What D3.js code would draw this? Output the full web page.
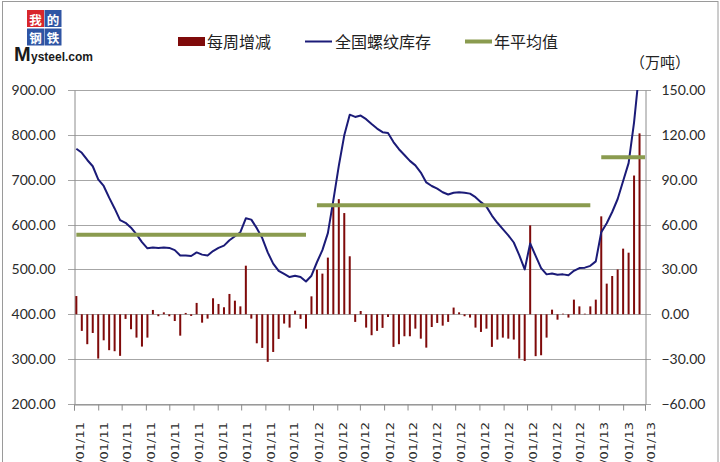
<!DOCTYPE html>
<html><head><meta charset="utf-8">
<script src="https://cdn.jsdelivr.net/npm/d3@7"></script>
<style>
html,body{margin:0;padding:0;background:#fff;}
svg{display:block;}
</style></head>
<body>
<svg id="chart" width="720" height="462"></svg>
<script>
// ---------- DATA ----------
const startDate = "2011-03-04";          // first weekly observation (Friday)
const weekCount = 104;
const weeklyChange = [ // 每周增减 (万吨), right axis
  12.2,-11.1,-20,-12.5,-29.6,-17.4,-24,-24.7,-27.8,-3.1,
  -10,-15.6,-21.6,-15.6,2.9,-1.3,1.3,-1.3,-4.5,-14.3,
  0.9,-1.1,7.6,-5.6,-2.9,10.7,6.9,4.7,13.6,9.1,
  5.3,32.5,-2.9,-19.4,-22.5,-31.8,-25.2,-16.5,-6.2,-8.9,
  2.4,-3.1,-9.6,12,29.8,27.2,37.9,73,77,67.7,
  38.8,-5.1,2.2,-8.9,-14,-11.1,-9.1,-1.8,-21.8,-20,
  -14.7,-14.7,-9.6,-16.3,-22.3,-8.5,-5.8,-7.6,-5.1,4.5,
  1.3,-1.3,-2.2,-8.9,-11.8,-9.6,-21.8,-16.9,-15.6,-16.3,
  -16.9,-29.6,-31.2,59.5,-28,-27.4,-15.6,3.1,-3.6,0.4,
  -2.2,9.8,5.3,0.4,5.3,9.8,65.5,20.5,25.6,30,
  43.9,41.2,92.8,121
];
const inventory = [ // 全国螺纹库存, left axis
  769,760,744,730,701,686,660,636,610,604,
  593,578,561,547,549,548,549,548,543,531,
  531,530,538,533,531,541,548,553,565,574,
  583,614,611,592,570,538,513,497,490,483,
  486,483,473,486,516,543,581,654,731,799,
  845,840,843,835,824,814,806,804,784,768,
  755,742,732,716,694,686,680,672,667,671,
  672,671,669,661,650,640,620,604,590,576,
  560,532,500,558,530,503,489,491,488,489,
  487,497,503,504,508,518,583,603,628,657,
  697,737,828,948
];
const avgYears  = ["2011","2012","2013"];
const avgValues = [577.5, 642.8, 750.3];      // 年平均值, left axis
const avgStart  = ["2011-03-04","2012-01-06","2013-01-04"];
const avgEnd    = ["2011-12-23","2012-12-21","2013-03-01"];
const leftTicks  = [200,300,400,500,600,700,800,900];
const rightTicks = [-60,-30,0,30,60,90,120,150];
const axisStart = "2011-03-01", axisEnd = "2013-03-01";
const legendLabels = ["每周增减","全国螺纹库存","年平均值"];
const unitLabel = "（万吨）";

// ---------- SETUP ----------
const parse = d3.timeParse("%Y-%m-%d");
const dates = d3.range(weekCount).map(i => d3.timeDay.offset(parse(startDate), 7*i));
const svg = d3.select("#chart");
const L = 74, R = 645, T = 90, B = 404;
const x = d3.scaleTime().domain([parse(axisStart), parse(axisEnd)]).range([L, R]);
const yL = d3.scaleLinear().domain([200, 900]).range([B, T]);
const yR = d3.scaleLinear().domain([-60, 150]).range([B, T]);

const numFont = "Lato, 'Open Sans', sans-serif";
const cjkFont = "'Noto Sans CJK SC', sans-serif";
const gridColor = "#a6a6a6", axisColor = "#8c8c8c";
const barColor = "#7f0a0a", lineColor = "#1b1b78", avgColor = "#8a9b4f";

// outer border (spreadsheet chart frame)
svg.append("rect").attr("x", 2.5).attr("y", 1.5).attr("width", 715.5).attr("height", 470)
  .attr("fill", "#fff").attr("stroke", "#9a9a9a").attr("stroke-width", 1);

// clip
svg.append("clipPath").attr("id", "plotclip").append("rect")
  .attr("x", L).attr("y", T).attr("width", R - L).attr("height", B - T);

// gridlines
svg.append("g").selectAll("line").data(leftTicks).join("line")
  .attr("x1", L - 6).attr("x2", R + 6)
  .attr("y1", d => Math.round(yL(d)) + 0.5).attr("y2", d => Math.round(yL(d)) + 0.5)
  .attr("stroke", gridColor).attr("stroke-width", 1);

// left axis
const gL = svg.append("g").attr("transform", `translate(${L + 0.5},0)`)
  .call(d3.axisLeft(yL).tickValues(leftTicks).tickFormat(d3.format(".2f")).tickSize(0).tickPadding(19));
gL.select(".domain").attr("stroke", axisColor);
gL.selectAll("text").attr("font-family", numFont).attr("font-size", 14).attr("fill", "#2b2b2b");

// right axis
const gR = svg.append("g").attr("transform", `translate(${R + 0.5},0)`)
  .call(d3.axisRight(yR).tickValues(rightTicks).tickFormat(d3.format(".2f")).tickSize(0).tickPadding(16));
gR.select(".domain").attr("stroke", axisColor);
gR.selectAll("text").attr("font-family", numFont).attr("font-size", 14).attr("fill", "#2b2b2b");

// x axis
const months = d3.timeMonth.range(parse(axisStart), d3.timeDay.offset(parse(axisEnd), 1));
const gX = svg.append("g").attr("transform", `translate(0,${B + 0.5})`)
  .call(d3.axisBottom(x).tickValues(months).tickSize(6).tickFormat(""));
gX.select(".domain").attr("stroke", axisColor);
gX.selectAll(".tick line").attr("stroke", axisColor);
const fmt = d3.timeFormat("%m/%d/%y");
svg.append("g").selectAll("text").data(months).join("text")
  .attr("transform", d => `translate(${x(d) + 9.5},422) rotate(-90) scale(1,0.78)`)
  .attr("text-anchor", "end")
  .attr("font-family", "'DejaVu Sans', sans-serif").attr("font-size", 13).attr("fill", "#2b2b2b")
  .text(d => fmt(d));

// bars
svg.append("g").selectAll("rect").data(weeklyChange).join("rect")
  .attr("x", (d, i) => x(dates[i]) - 1)
  .attr("width", 2)
  .attr("y", d => Math.min(yR(d), yR(0)))
  .attr("height", d => Math.abs(yR(d) - yR(0)))
  .attr("fill", barColor);

// inventory line
svg.append("path").datum(inventory)
  .attr("clip-path", "url(#plotclip)")
  .attr("d", d3.line().x((d, i) => x(dates[i])).y(d => yL(d)).curve(d3.curveLinear))
  .attr("fill", "none").attr("stroke", lineColor).attr("stroke-width", 2).attr("stroke-linejoin", "round");

// annual averages
svg.append("g").selectAll("line").data(avgValues).join("line")
  .attr("x1", (d, i) => x(parse(avgStart[i])))
  .attr("x2", (d, i) => x(parse(avgEnd[i])))
  .attr("y1", d => yL(d)).attr("y2", d => yL(d))
  .attr("stroke", avgColor).attr("stroke-width", 4);

// legend
const lg = svg.append("g");
lg.append("rect").attr("x", 178).attr("y", 37).attr("width", 27).attr("height", 9).attr("fill", barColor);
lg.append("line").attr("x1", 305).attr("x2", 332).attr("y1", 41.5).attr("y2", 41.5).attr("stroke", lineColor).attr("stroke-width", 2);
lg.append("line").attr("x1", 465).attr("x2", 492).attr("y1", 41.5).attr("y2", 41.5).attr("stroke", avgColor).attr("stroke-width", 4);
const legX = [207, 335, 494];
lg.selectAll("text").data(legendLabels).join("text")
  .attr("x", (d, i) => legX[i]).attr("y", 41)
  .attr("dominant-baseline", "central")
  .attr("font-family", cjkFont).attr("font-size", 16).attr("fill", "#222")
  .text(d => d);

// unit
svg.append("text").attr("x", 660).attr("y", 61).attr("text-anchor", "middle")
  .attr("dominant-baseline", "central")
  .attr("font-family", cjkFont).attr("font-size", 15).attr("fill", "#222").text(unitLabel);

// logo
const logoChars = ["我","的","钢","铁"];
const logoFill = ["#d8262c","#2f55a4","#2f55a4","#2f55a4"];
const logo = svg.append("g");
logoChars.forEach((c, i) => {
  const lx = 27 + (i % 2) * 17.5, ly = 10 + Math.floor(i / 2) * 18.5;
  logo.append("rect").attr("x", lx).attr("y", ly).attr("width", 17).attr("height", 17).attr("fill", logoFill[i]);
  logo.append("text").attr("x", lx + 8.5).attr("y", ly + 9).attr("text-anchor", "middle")
    .attr("dominant-baseline", "central").attr("font-family", cjkFont).attr("font-size", 12.5)
    .attr("font-weight", "bold").attr("fill", "#fff").text(c);
});
logo.append("text").attr("x", 14).attr("y", 61).attr("font-family", "'Liberation Sans', Arial, sans-serif")
  .attr("font-size", 20).attr("font-weight", "bold").attr("fill", "#1a1a1a").text("M");
logo.append("text").attr("x", 31).attr("y", 61).attr("font-family", "'Liberation Sans', Arial, sans-serif")
  .attr("font-size", 12).attr("font-weight", "bold").attr("fill", "#1a1a1a").text("ysteel.com");
</script>
</body></html>
